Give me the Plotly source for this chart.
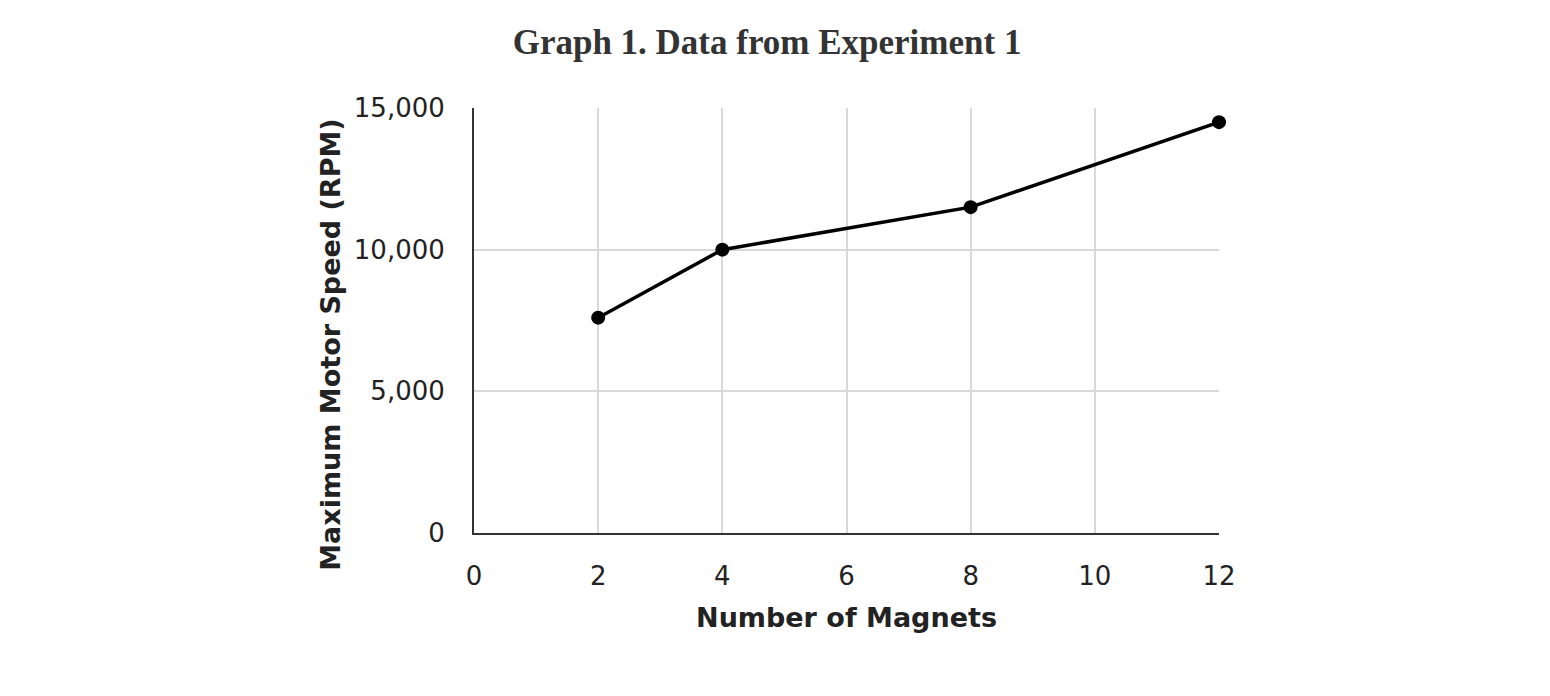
import plotly.graph_objects as go

magnets = [2, 4, 8, 12]
speed_rpm = [7600, 10000, 11500, 14500]
x_ticks = [0, 2, 4, 6, 8, 10, 12]
y_ticks = [0, 5000, 10000, 15000]
y_tick_labels = ["0", "5,000", "10,000", "15,000"]

fig = go.Figure()
fig.add_trace(go.Scatter(
    x=magnets, y=speed_rpm, mode="lines+markers",
    line=dict(color="black", width=3.5),
    marker=dict(color="black", size=14),
    showlegend=False, cliponaxis=False,
))

fig.update_layout(
    width=1550, height=696,
    paper_bgcolor="white", plot_bgcolor="white",
    margin=dict(l=466, r=339, t=100, b=171),
    title=dict(text="<b>Graph 1. Data from Experiment 1</b>",
               x=0.4897, xanchor="center", y=0.951, yanchor="middle",
               font=dict(family="Liberation Serif", size=35, color="#333333")),
    font=dict(family="DejaVu Sans", color="#222222"),
    annotations=[dict(
        text="<b>Maximum Motor Speed (RPM)</b>", textangle=-90,
        xref="paper", yref="paper", x=-0.192, y=0.445,
        xanchor="center", yanchor="middle", showarrow=False,
        font=dict(size=27, color="#222222"),
    )],
)
fig.update_xaxes(
    range=[0, 12], tickvals=x_ticks, ticktext=[str(v) for v in x_ticks],
    showgrid=True, gridcolor="#d9d9d9", gridwidth=1.5,
    showline=True, linecolor="#333333", linewidth=2,
    zeroline=False, ticks="", ticklabelstandoff=19,
    tickfont=dict(size=26, color="#222222"),
    title=dict(text="<b>Number of Magnets</b>", font=dict(size=27, color="#222222"), standoff=18),
)
fig.update_yaxes(
    range=[0, 15000], tickvals=y_ticks, ticktext=y_tick_labels,
    showgrid=True, gridcolor="#d9d9d9", gridwidth=1.5,
    showline=True, linecolor="#333333", linewidth=2,
    zeroline=False, ticks="", ticklabelstandoff=22,
    tickfont=dict(size=26, color="#222222"),
)

fig.write_html("out.html")
